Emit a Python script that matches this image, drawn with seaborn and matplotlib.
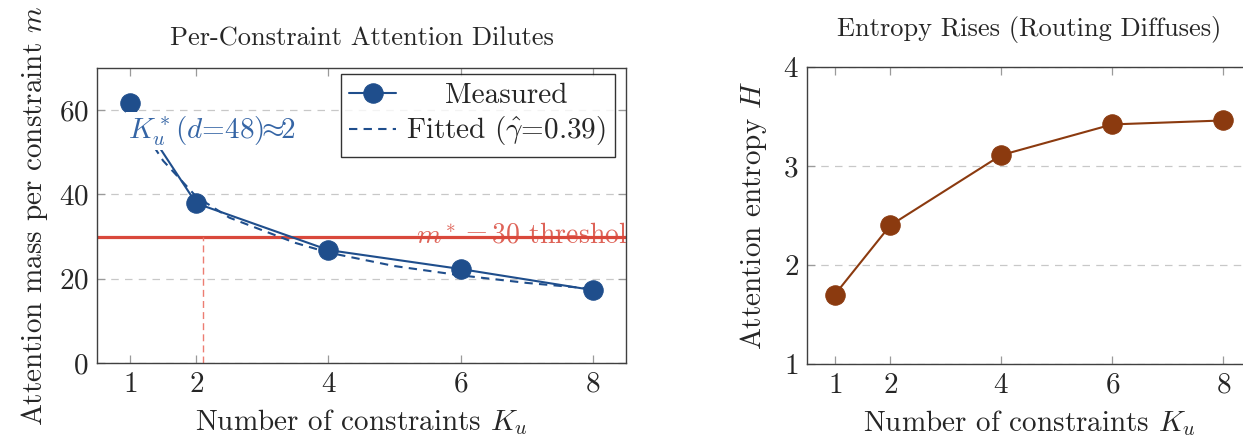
import matplotlib
matplotlib.use("Agg")
import matplotlib.pyplot as plt
import seaborn as sns

# data
k_values = [1, 2, 4, 6, 8]
mass_measured = [61.8, 37.9, 26.8, 22.3, 17.3]
k_fit = [1, 1.5, 2, 2.5, 3, 3.5, 4, 5, 6, 7, 8]
mass_fitted = [60.0, 48.0, 39.5, 34.5, 31.5, 28.5, 26.2, 23.0, 20.8, 19.0, 17.6]
entropy = [1.70, 2.40, 3.11, 3.42, 3.46]
m_star = 30
k_star = 2.1

blue = "#1f4e8c"
red = "#d9483b"
brown = "#8b3a0f"

sns.set_style("ticks")
plt.rcParams["font.family"] = ["cmr10", "DejaVu Serif"]
plt.rcParams["mathtext.fontset"] = "cm"
plt.rcParams["axes.formatter.use_mathtext"] = True
plt.rcParams["axes.unicode_minus"] = False

fs = 21
fig = plt.figure(figsize=(12.43, 4.37), dpi=100)
ax1 = fig.add_axes([97 / 1243, 74 / 437, 529 / 1243, 295 / 437])
ax2 = fig.add_axes([807 / 1243, 73 / 437, 444 / 1243, 297 / 437])

# left panel: attention mass
ax1.axhline(m_star, color=red, linewidth=2.3, zorder=1)
ax1.vlines(k_star, 0, m_star, color="#ec7d72", linewidth=1.0, linestyle=(0, (5, 3)), zorder=1)
sns.lineplot(x=k_values, y=mass_measured, ax=ax1, color=blue, marker="o", markersize=14,
             markeredgecolor=blue, linewidth=1.5, label="    Measured", zorder=3)
sns.lineplot(x=k_fit, y=mass_fitted, ax=ax1, color=blue, linestyle=(0, (4, 3)),
             linewidth=1.5, label=r"Fitted ($\hat{\gamma}$=0.39)", zorder=2)
ax1.text(5.33, 30.3, r"$m^* = 30$ threshold", color=red, alpha=0.85, fontsize=20,
         ha="left", va="center", clip_on=True, zorder=2)
ax1.text(0.97, 55.0, r"$K_u^*(d$=48)$\!\!\approx\!\!$2", color="#3565a5", fontsize=fs,
         ha="left", va="center", zorder=4,
         bbox=dict(facecolor="white", edgecolor="none", pad=1.5))

ax1.set_xlim(0.5, 8.5)
ax1.set_ylim(0, 70)
ax1.set_xticks(k_values)
ax1.set_yticks([0, 20, 40, 60])
ax1.set_title("Per-Constraint Attention Dilutes", fontsize=19, pad=16)
ax1.set_xlabel(r"Number of constraints $K_u$", fontsize=fs, labelpad=7)
ax1.set_ylabel(r"Attention mass per constraint $m$", fontsize=fs, labelpad=6)
leg = ax1.legend(loc="upper right", bbox_to_anchor=(0.979, 0.98), borderaxespad=0,
                 fontsize=fs, frameon=True, fancybox=False, edgecolor="black",
                 handlelength=1.6, borderpad=0.3, labelspacing=0.2, handletextpad=0.35)
leg.get_frame().set_linewidth(1.0)

# right panel: entropy
sns.lineplot(x=k_values, y=entropy, ax=ax2, color=brown, marker="o", markersize=14,
             markeredgecolor=brown, linewidth=1.5, zorder=3)
ax2.set_xlim(0.5, 8.5)
ax2.set_ylim(1, 4)
ax2.set_xticks(k_values)
ax2.set_yticks([1, 2, 3, 4])
ax2.set_title("Entropy Rises (Routing Diffuses)", fontsize=19, pad=22)
ax2.set_xlabel(r"Number of constraints $K_u$", fontsize=fs, labelpad=7)
ax2.set_ylabel(r"Attention entropy $H$", fontsize=fs, labelpad=10)

for ax in (ax1, ax2):
    ax.yaxis.grid(True, linestyle=(0, (6, 5)), color="#c8c8c8", linewidth=0.9)
    ax.xaxis.grid(False)
    ax.set_axisbelow(True)
    ax.tick_params(direction="in", top=True, right=True, length=6, width=0.9,
                   color="#9a9a9a", labelsize=fs, pad=6)
    for sp in ax.spines.values():
        sp.set_visible(True)
        sp.set_color("#404040")
        sp.set_linewidth(1.0)

fig.savefig("out.png", dpi=100)
